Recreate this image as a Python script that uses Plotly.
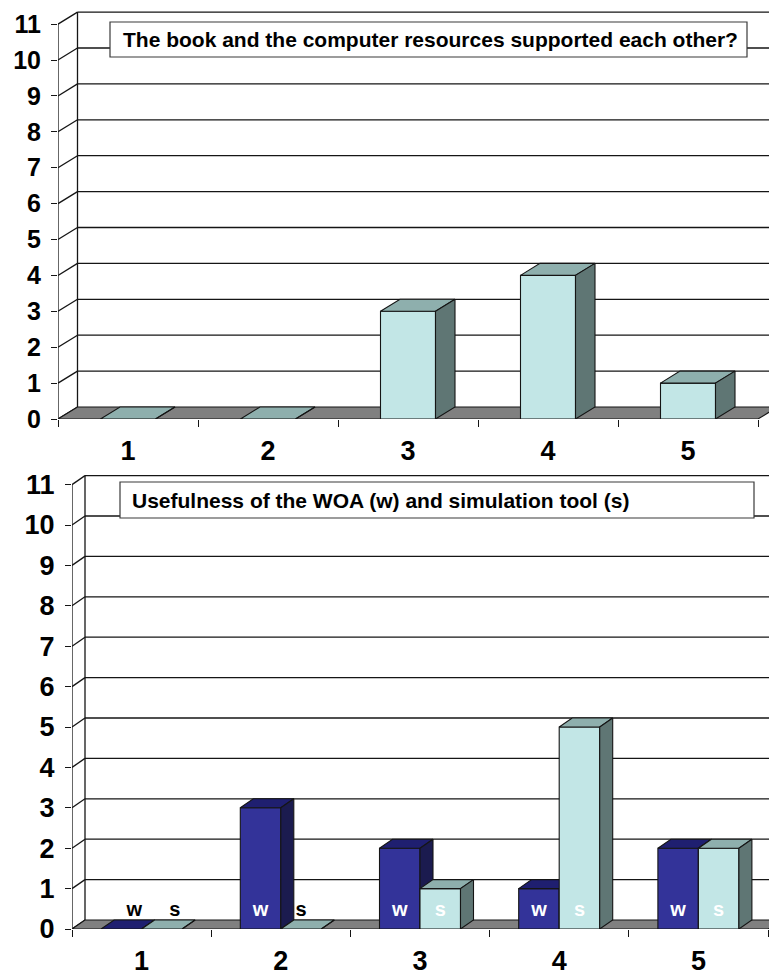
import plotly.graph_objects as go

# ---- data -------------------------------------------------------------
categories = ["1", "2", "3", "4", "5"]
book_support = [0, 0, 3, 4, 1]            # upper panel, single series
woa_usefulness = [0, 3, 2, 1, 2]          # lower panel, series "w"
sim_usefulness = [0, 0, 1, 5, 2]          # lower panel, series "s"
series_tags = ["w", "s"]
y_ticks = list(range(0, 12))
top_title = "The book and the computer resources supported each other?"
bottom_title = "Usefulness of the WOA (w) and simulation tool (s)"

# ---- page / styling ---------------------------------------------------
W, H = 769, 978
FONT = "Liberation Sans, Arial, sans-serif"
EDGE = "#151515"

TEAL = dict(front="#c2e6e6", top="#8eafad", side="#5f7674")
NAVY = dict(front="#333399", top="#1f1f70", side="#1b1b4f")
FLOOR = "#808080"

# panel geometry in pixels (front zero line, pixels per unit, etc.)
panels = [
    dict(zero=419, unit=35.9, left=58, cat=140.0, ymax=11.4, dx=19.5, dy=12.0,
         xa="x", ya="y", ytick=25, xtick=27, standoff=13),
    dict(zero=929, unit=40.4, left=72, cat=139.2, ymax=11.3, dx=13.0, dy=9.0,
         xa="x2", ya="y2", ytick=27, xtick=27, standoff=13),
]
xpos = list(range(1, len(categories) + 1))

fig = go.Figure()


def line_trace(xs, ys, p, color=EDGE, width=1.3):
    fig.add_trace(go.Scatter(x=xs, y=ys, mode="lines", xaxis=p["xa"], yaxis=p["ya"],
                             line=dict(color=color, width=width),
                             hoverinfo="skip", showlegend=False))


def poly_trace(xs, ys, p, fill):
    fig.add_trace(go.Scatter(x=xs, y=ys, mode="lines", fill="toself", fillcolor=fill,
                             xaxis=p["xa"], yaxis=p["ya"],
                             line=dict(color=EDGE, width=1.1),
                             hoverinfo="skip", showlegend=False))


def draw_frame(p):
    ddx = p["dx"] / p["cat"]
    ddy = p["dy"] / p["unit"]
    x_left = 0.5
    x_right = 0.5 + (W - p["left"]) / p["cat"]
    x_end = len(categories) + 0.5
    # back-wall gridlines
    gx, gy = [], []
    for v in y_ticks[1:]:
        gx += [x_left + ddx, x_right + 1, None]
        gy += [v + ddy, v + ddy, None]
    line_trace(gx, gy, p)
    # side wall: front edge, back edge, connectors at every tick
    wx = [x_left, x_left, None, x_left + ddx, x_left + ddx, None]
    wy = [0, y_ticks[-1], None, ddy, y_ticks[-1] + ddy, None]
    for v in y_ticks:
        wx += [x_left, x_left + ddx, None]
        wy += [v, v + ddy, None]
    line_trace(wx, wy, p)
    # floor
    poly_trace([x_left, x_end, x_end + ddx, x_left + ddx, x_left],
               [0, 0, ddy, ddy, 0], p, FLOOR)
    return ddx, ddy, x_right


def draw_series(p, values, offset, width, colors, ddx, ddy):
    fx, fy, tx, ty, sx, sy = [], [], [], [], [], []
    for c, v in zip(xpos, values):
        x0 = c + offset
        x1 = x0 + width
        fx += [x0, x1, x1, x0, x0, None]
        fy += [0, 0, v, v, 0, None]
        tx += [x0, x1, x1 + ddx, x0 + ddx, x0, None]
        ty += [v, v, v + ddy, v + ddy, v, None]
        sx += [x1, x1 + ddx, x1 + ddx, x1, x1, None]
        sy += [0, ddy, v + ddy, v, 0, None]
    poly_trace(fx, fy, p, colors["front"])
    poly_trace(tx, ty, p, colors["top"])
    poly_trace(sx, sy, p, colors["side"])


# ---- upper panel --------------------------------------------------------
p = panels[0]
ddx, ddy, xr0 = draw_frame(p)
bw = 55 / p["cat"]
draw_series(p, book_support, -bw / 2, bw, TEAL, ddx, ddy)
p["xr"] = xr0

# ---- lower panel --------------------------------------------------------
p = panels[1]
ddx, ddy, xr1 = draw_frame(p)
bw = 40.5 / p["cat"]
draw_series(p, woa_usefulness, -bw, bw, NAVY, ddx, ddy)
draw_series(p, sim_usefulness, 0.0, bw, TEAL, ddx, ddy)
p["xr"] = xr1

# series tags inside the bars; in an all-empty group they sit back on the floor
label_y = 18 / p["unit"]
empty_group = [w == 0 and s == 0 for w, s in zip(woa_usefulness, sim_usefulness)]
for tag, vals, off in ((series_tags[0], woa_usefulness, -bw / 2),
                       (series_tags[1], sim_usefulness, bw / 2)):
    fig.add_trace(go.Scatter(
        x=[c + off + (ddx if e else 0) for c, e in zip(xpos, empty_group)],
        y=[label_y] * len(xpos),
        mode="text", text=[tag] * len(xpos), xaxis="x2", yaxis="y2",
        textposition="middle center",
        textfont=dict(family=FONT, size=20, weight="bold",
                      color=["white" if v > 0 else "black" for v in vals]),
        hoverinfo="skip", showlegend=False, cliponaxis=False))

# ---- axes ---------------------------------------------------------------
layout_axes = {}
for i, p in enumerate(panels):
    sfx = "" if i == 0 else "2"
    top_px = p["zero"] - p["ymax"] * p["unit"]
    layout_axes["xaxis" + sfx] = dict(
        domain=[p["left"] / W, 1.0], range=[0.5, p["xr"]], anchor=p["ya"],
        tickmode="array", tickvals=xpos, ticktext=categories, ticks="",
        showgrid=False, zeroline=False, showline=False, fixedrange=True,
        automargin=False, ticklabelstandoff=p["standoff"],
        tickfont=dict(family=FONT, size=p["xtick"], weight="bold", color="black"),
        minor=dict(tickmode="array", tickvals=[c - 0.5 for c in xpos] + [xpos[-1] + 0.5],
                   ticks="outside", ticklen=7, tickwidth=1.2, tickcolor=EDGE,
                   showgrid=False),
    )
    layout_axes["yaxis" + sfx] = dict(
        domain=[1 - p["zero"] / H, 1 - top_px / H], range=[0, p["ymax"]],
        anchor=p["xa"], tickmode="array", tickvals=y_ticks,
        ticks="outside", ticklen=6, tickwidth=1.2, tickcolor=EDGE,
        showgrid=False, zeroline=False, showline=False, fixedrange=True,
        automargin=False, ticklabelstandoff=5,
        tickfont=dict(family=FONT, size=p["ytick"], weight="bold", color="black"),
    )

# ---- title boxes ----------------------------------------------------------
boxes = [
    dict(text=top_title, x0=110, x1=747, y0=22, y1=57, tx=121, size=21),
    dict(text=bottom_title, x0=120, x1=754, y0=482, y1=518, tx=130, size=21),
]
shapes, annotations = [], []
for b in boxes:
    shapes.append(dict(type="rect", xref="paper", yref="paper", layer="above",
                       x0=b["x0"] / W, x1=b["x1"] / W,
                       y0=1 - b["y1"] / H, y1=1 - b["y0"] / H,
                       fillcolor="white", line=dict(color="#3a3a3a", width=1.2)))
    annotations.append(dict(text=b["text"], xref="paper", yref="paper",
                            x=b["tx"] / W, xanchor="left",
                            y=1 - (b["y0"] + b["y1"]) / 2 / H, yanchor="middle",
                            showarrow=False,
                            font=dict(family=FONT, size=b["size"], weight="bold",
                                      color="black")))

fig.update_layout(
    width=W, height=H, margin=dict(l=0, r=0, t=0, b=0, autoexpand=False),
    paper_bgcolor="white", plot_bgcolor="white",
    showlegend=False, shapes=shapes, annotations=annotations,
    **layout_axes,
)

fig.write_html("out.html")
